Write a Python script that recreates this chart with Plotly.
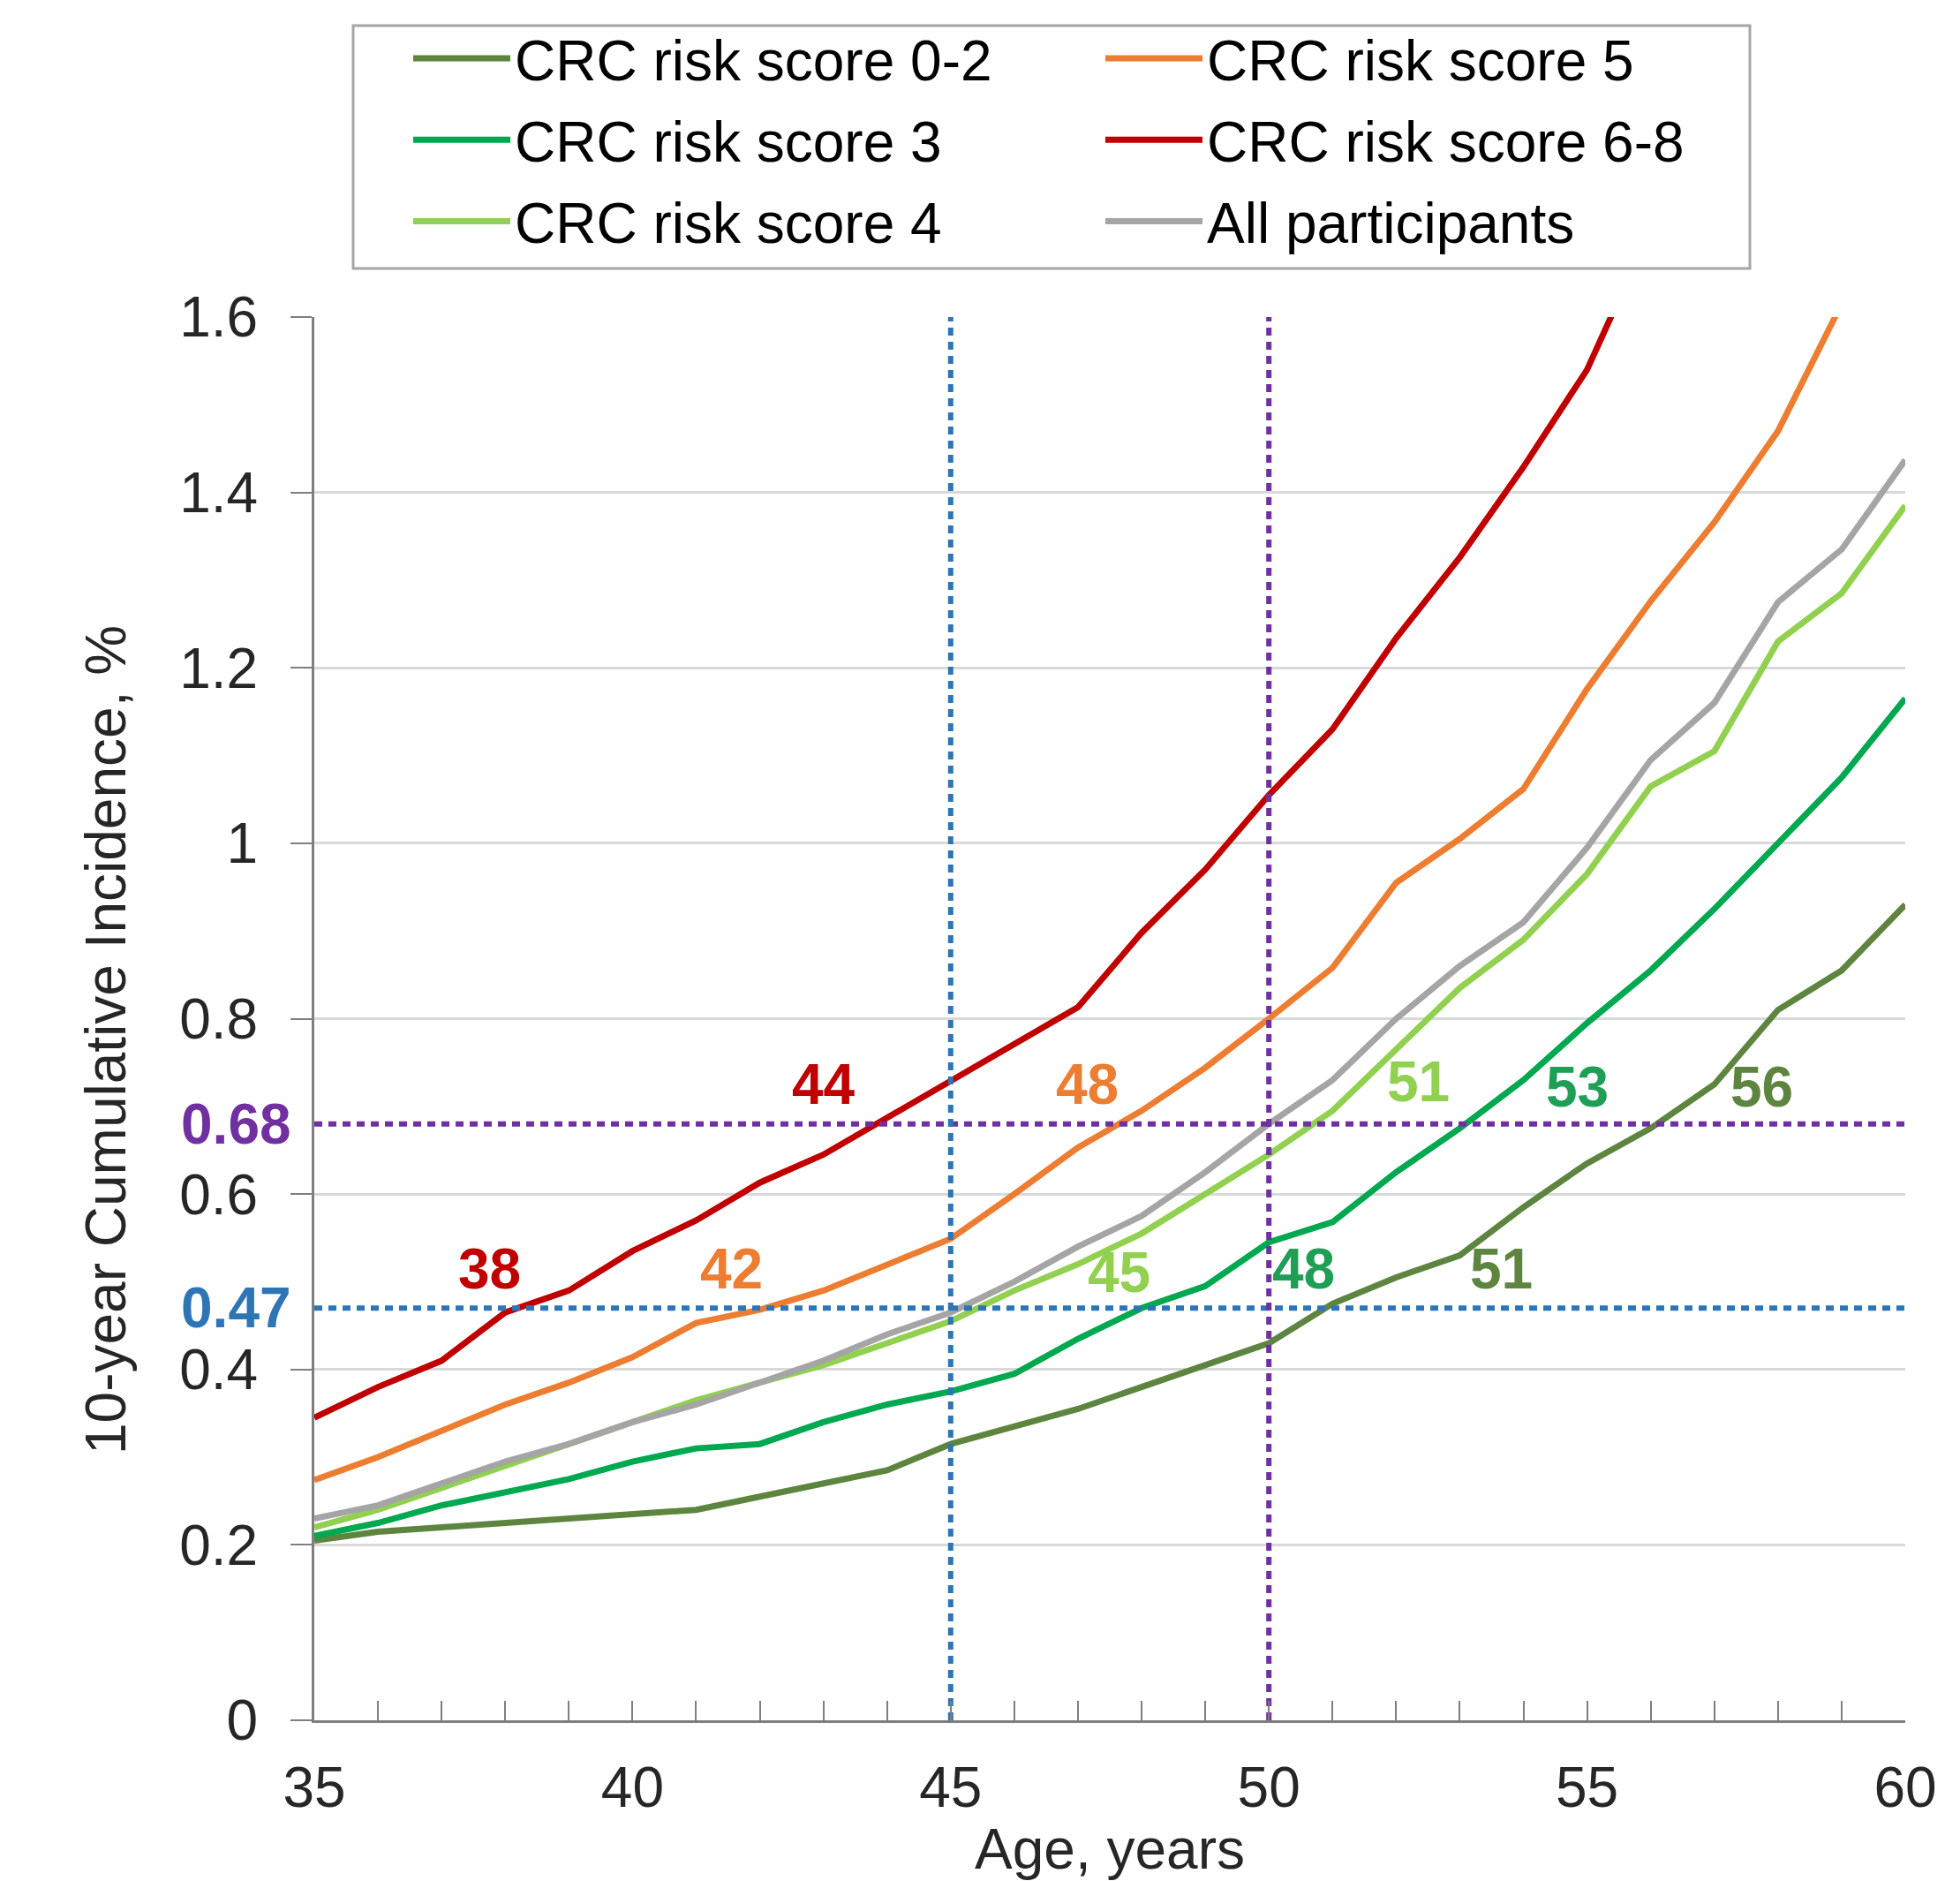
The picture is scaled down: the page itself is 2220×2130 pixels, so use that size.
import plotly.graph_objects as go

ages = list(range(35, 61))

risk_0_2 = [0.205, 0.215, 0.220, 0.225, 0.230, 0.235, 0.240, 0.255, 0.270, 0.285,
            0.315, 0.335, 0.355, 0.380, 0.405, 0.430, 0.475, 0.505, 0.530, 0.585,
            0.635, 0.675, 0.725, 0.810, 0.855, 0.930]
risk_3 = [0.210, 0.225, 0.245, 0.260, 0.275, 0.295, 0.310, 0.315, 0.340, 0.360,
          0.375, 0.395, 0.435, 0.470, 0.495, 0.545, 0.568, 0.625, 0.675, 0.730,
          0.795, 0.855, 0.925, 1.000, 1.075, 1.165]
risk_4 = [0.220, 0.240, 0.265, 0.290, 0.315, 0.340, 0.365, 0.385, 0.405, 0.430,
          0.455, 0.490, 0.520, 0.555, 0.600, 0.645, 0.695, 0.765, 0.835, 0.890,
          0.965, 1.065, 1.105, 1.230, 1.285, 1.385]
risk_5 = [0.274, 0.300, 0.330, 0.360, 0.385, 0.414, 0.453, 0.468, 0.490, 0.520,
          0.549, 0.600, 0.653, 0.695, 0.744, 0.800, 0.858, 0.955, 1.005, 1.062,
          1.176, 1.276, 1.366, 1.470, 1.616, 1.760]
risk_6_8 = [0.345, 0.380, 0.410, 0.465, 0.490, 0.535, 0.570, 0.613, 0.645, 0.687,
            0.730, 0.773, 0.813, 0.898, 0.970, 1.055, 1.130, 1.234, 1.326, 1.429,
            1.540, 1.700]
all_participants = [0.230, 0.245, 0.270, 0.295, 0.315, 0.340, 0.360, 0.385, 0.410, 0.440,
                    0.465, 0.500, 0.540, 0.575, 0.625, 0.680, 0.730, 0.800, 0.860, 0.910,
                    0.995, 1.095, 1.160, 1.275, 1.335, 1.437]

series_names = ["CRC risk score 0-2", "CRC risk score 3", "CRC risk score 4",
                "CRC risk score 5", "CRC risk score 6-8", "All participants"]
series_values = [risk_0_2, risk_3, risk_4, risk_5, risk_6_8, all_participants]
series_colors = ["#5e8540", "#00a850", "#92d050", "#ed7d31", "#c00000", "#a5a5a5"]
series_legend = ["legend", "legend", "legend", "legend2", "legend2", "legend2"]

# reference thresholds
threshold_50 = 0.68
threshold_45 = 0.47
ref_age_45 = 45
ref_age_50 = 50

# crossing-age labels
label_text = ["38", "42", "44", "48", "45", "48", "51", "53", "56", "51"]
label_x = [37.75, 41.55, 43.0, 47.15, 47.65, 50.55, 52.35, 54.85, 57.75, 53.65]
label_y = [0.515, 0.515, 0.725, 0.725, 0.511, 0.515, 0.728, 0.722, 0.722, 0.515]
label_color = ["#c00000", "#ed7d31", "#c00000", "#ed7d31", "#92d050", "#1f9e55",
               "#92d050", "#1f9e55", "#5e8540", "#5e8540"]

x_title = "Age, years"
y_title = "10-year Cumulative Incidence, %"

FONT = "Arial, Liberation Sans, sans-serif"
TXT = "#262626"
PURPLE = "#7030a0"
BLUE = "#2e75b6"

W, H = 2220, 2130
L, R, T, B = 348, 70, 351, 190
PW, PH = W - L - R, H - T - B

fig = go.Figure()

for name, vals, col, lg in zip(series_names, series_values, series_colors, series_legend):
    fig.add_trace(go.Scatter(
        x=ages[:len(vals)], y=vals, mode="lines", name=name,
        line=dict(color=col, width=7), legend=lg, legendgroup=name,
    ))

# dotted reference lines
DOT = "9px,7px"
fig.add_trace(go.Scatter(x=[ages[0], ages[-1]], y=[threshold_50, threshold_50], mode="lines",
                         line=dict(color=PURPLE, width=6, dash=DOT), showlegend=False))
fig.add_trace(go.Scatter(x=[ages[0], ages[-1]], y=[threshold_45, threshold_45], mode="lines",
                         line=dict(color=BLUE, width=6, dash=DOT), showlegend=False))
fig.add_trace(go.Scatter(x=[ref_age_45, ref_age_45], y=[0, 1.6], mode="lines",
                         line=dict(color=BLUE, width=6, dash=DOT), showlegend=False))
fig.add_trace(go.Scatter(x=[ref_age_50, ref_age_50], y=[0, 1.6], mode="lines",
                         line=dict(color=PURPLE, width=6, dash=DOT), showlegend=False))

annotations = []
for t, x, y, c in zip(label_text, label_x, label_y, label_color):
    annotations.append(dict(x=x, y=y, xref="x", yref="y", text=t, showarrow=False,
                            font=dict(family=FONT, size=64, color=c, weight="bold")))
annotations.append(dict(x=0, y=threshold_50, xref="paper", yref="y", text="0.68",
                        showarrow=False, xanchor="right", xshift=-24,
                        font=dict(family=FONT, size=64, color=PURPLE, weight="bold")))
annotations.append(dict(x=0, y=threshold_45, xref="paper", yref="y", text="0.47",
                        showarrow=False, xanchor="right", xshift=-24,
                        font=dict(family=FONT, size=64, color=BLUE, weight="bold")))
# axis titles
annotations.append(dict(x=(112 - L) / PW, y=(H - B - 1170) / PH, xref="paper", yref="paper",
                        text=y_title, textangle=-90, showarrow=False,
                        xanchor="center", yanchor="middle",
                        font=dict(family=FONT, size=64, color=TXT)))
annotations.append(dict(x=0.5, y=(H - B - 2086) / PH, xref="paper", yref="paper",
                        text=x_title, showarrow=False, xanchor="center", yanchor="middle",
                        font=dict(family=FONT, size=64, color=TXT)))

legend_common = dict(
    font=dict(family=FONT, size=64, color="#000000"),
    bgcolor="rgba(0,0,0,0)", borderwidth=0, orientation="v",
    itemwidth=110, traceorder="grouped", tracegroupgap=6,
    xref="container", yref="container", xanchor="left", yanchor="top",
    itemclick=False, itemdoubleclick=False,
)

fig.update_layout(
    template="none",
    width=W, height=H,
    margin=dict(l=L, r=R, t=T, b=B, autoexpand=False),
    paper_bgcolor="white", plot_bgcolor="white",
    font=dict(family=FONT, size=64, color=TXT),
    showlegend=True,
    legend=dict(x=(460 - 5) / W, y=1 - 10 / H, **legend_common),
    legend2=dict(x=(1244 - 5) / W, y=1 - 10 / H, **legend_common),
    annotations=annotations,
    shapes=[dict(type="rect", xref="paper", yref="paper",
                 x0=(392 - L) / PW, x1=(1974 - L) / PW,
                 y0=(H - B - 296) / PH, y1=(H - B - 21) / PH,
                 line=dict(color="#a6a6a6", width=3), fillcolor="rgba(0,0,0,0)",
                 layer="below")],
    xaxis=dict(
        range=[35, 60], tickvals=[35, 40, 45, 50, 55, 60], ticks="inside", ticklen=22,
        tickwidth=2, tickcolor="#7f7f7f", showline=True, linecolor="#7f7f7f", linewidth=3,
        showgrid=False, zeroline=False, ticklabelstandoff=18, automargin=False,
        tickfont=dict(family=FONT, size=64, color=TXT),
        minor=dict(dtick=1, tick0=35, ticks="inside", ticklen=22, tickwidth=2,
                   tickcolor="#7f7f7f", showgrid=False),
    ),
    yaxis=dict(
        range=[0, 1.6], dtick=0.2, tick0=0, ticks="outside", ticklen=24, tickwidth=2,
        tickcolor="#7f7f7f", showline=True, linecolor="#7f7f7f", linewidth=3,
        showgrid=True, gridcolor="#d9d9d9", gridwidth=2.5, zeroline=False,
        ticklabelstandoff=24, automargin=False,
        tickfont=dict(family=FONT, size=64, color=TXT),
    ),
)

fig.write_html("out.html")
